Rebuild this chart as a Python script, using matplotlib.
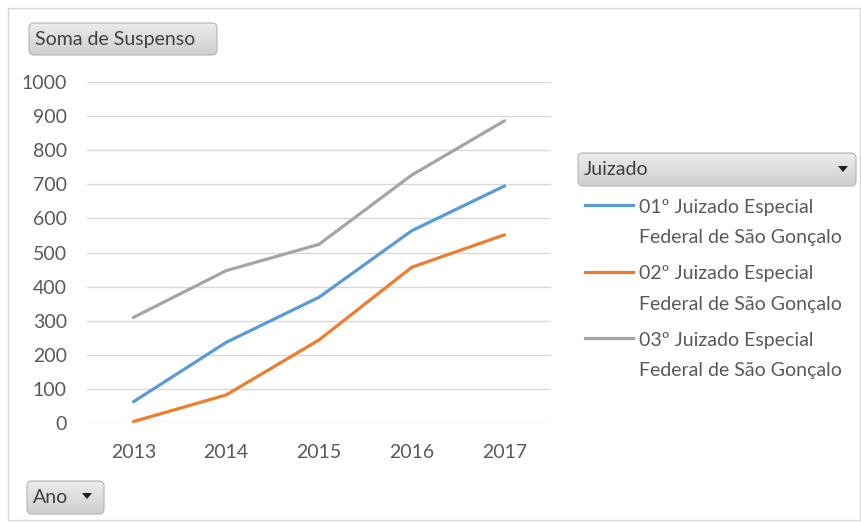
import matplotlib
matplotlib.use('Agg')
import numpy as np
import matplotlib.pyplot as plt
from matplotlib.patches import FancyBboxPatch, Rectangle, Polygon
from matplotlib.lines import Line2D

# dados (Soma de Suspenso por Ano)
anos = ['2013', '2014', '2015', '2016', '2017']
juizado_01 = [63, 237, 369, 564, 695]
juizado_02 = [5, 83, 244, 457, 552]
juizado_03 = [310, 447, 524, 727, 886]
nomes = ['01º Juizado Especial\nFederal de São Gonçalo',
         '02º Juizado Especial\nFederal de São Gonçalo',
         '03º Juizado Especial\nFederal de São Gonçalo']
cores = ['#5B9BD5', '#ED7D31', '#A5A5A5']
yticks = [0, 100, 200, 300, 400, 500, 600, 700, 800, 900, 1000]

W, H = 861, 523
plt.rcParams['font.family'] = ['Lato', 'DejaVu Sans']
cinza_txt = '#595959'
fs = 14

fig = plt.figure(figsize=(W / 100, H / 100), dpi=100)


def fx(x):
    return x / W


def fy(y):
    return 1 - y / H


def pol(x, y):
    # pixels -> polegadas (para cantos arredondados iguais)
    return x / 100, (H - y) / 100


# moldura
x0, y0 = pol(8, 520)
fig.add_artist(Rectangle((x0, y0), (860 - 8) / 100, (520 - 8) / 100,
                         transform=fig.dpi_scale_trans, fill=False,
                         ec='#d9d9d9', lw=1))

ax = fig.add_axes([fx(87), fy(423.3), fx(551) - fx(87), (423.3 - 81.8) / H])
x = list(range(len(anos)))
linhas = []
for serie, cor in zip([juizado_01, juizado_02, juizado_03], cores):
    ln, = ax.plot(x, serie, color=cor, lw=2.3, solid_capstyle='round', zorder=3)
    linhas.append(ln)

ax.set_xlim(-0.5, len(anos) - 0.5)
ax.set_ylim(0, 1000)
ax.set_yticks(yticks)
ax.set_xticks(x)
ax.set_xticklabels(anos)
ax.grid(axis='y', color='#d9d9d9', lw=1)
ax.set_axisbelow(True)
for s in ax.spines.values():
    s.set_visible(False)
ax.tick_params(axis='both', length=0, labelsize=fs, labelcolor=cinza_txt)
ax.tick_params(axis='y', pad=14.5)
ax.tick_params(axis='x', pad=15)

grad = np.linspace(0, 1, 64).reshape(-1, 1)


def botao(xa, ya, xb, yb, texto, seta=None):
    px, py = pol(xa, yb)
    forma = FancyBboxPatch((px, py), (xb - xa) / 100, (yb - ya) / 100,
                           boxstyle='round,pad=0,rounding_size=0.05',
                           transform=fig.dpi_scale_trans,
                           fill=False, ec='#b4b4b4', lw=0.8, zorder=2)
    bax = fig.add_axes([fx(xa), fy(yb), fx(xb - xa), (yb - ya) / H], zorder=1)
    bax.axis('off')
    im = bax.imshow(grad, cmap=matplotlib.colors.LinearSegmentedColormap.from_list(
        'b', ['#ececec', '#cfcfcf']), aspect='auto', extent=[0, 1, 0, 1])
    im.set_clip_path(forma)
    fig.add_artist(forma)
    fig.text(fx(xa + 6), fy((ya + yb) / 2), texto, fontsize=fs,
             color='#404040', va='center', ha='left', zorder=3)
    if seta is not None:
        cx, cy = seta
        fig.add_artist(Polygon([(fx(cx - 5), fy(cy - 3)), (fx(cx + 5), fy(cy - 3)),
                                (fx(cx), fy(cy + 3))], closed=True,
                               transform=fig.transFigure, fc='#202020', ec='none',
                               zorder=3))


botao(29, 23, 217, 55, 'Soma de Suspenso')
botao(578, 153, 856, 186, 'Juizado', seta=(843, 169))
botao(27, 481, 104, 514, 'Ano', seta=(87, 496))

# legenda
for i, (ln, nome) in enumerate(zip(linhas, nomes)):
    yl = 205 + i * 66.5
    fig.add_artist(Line2D([fx(585), fx(633)], [fy(yl), fy(yl)],
                          color=ln.get_color(), lw=2.3,
                          transform=fig.transFigure))
    for j, parte in enumerate(nome.split('\n')):
        fig.text(fx(639), fy(yl + 7.7 + j * 30.6), parte, fontsize=fs,
                 color=cinza_txt, va='baseline', ha='left')

fig.savefig('out.png', dpi=100, facecolor='white')
